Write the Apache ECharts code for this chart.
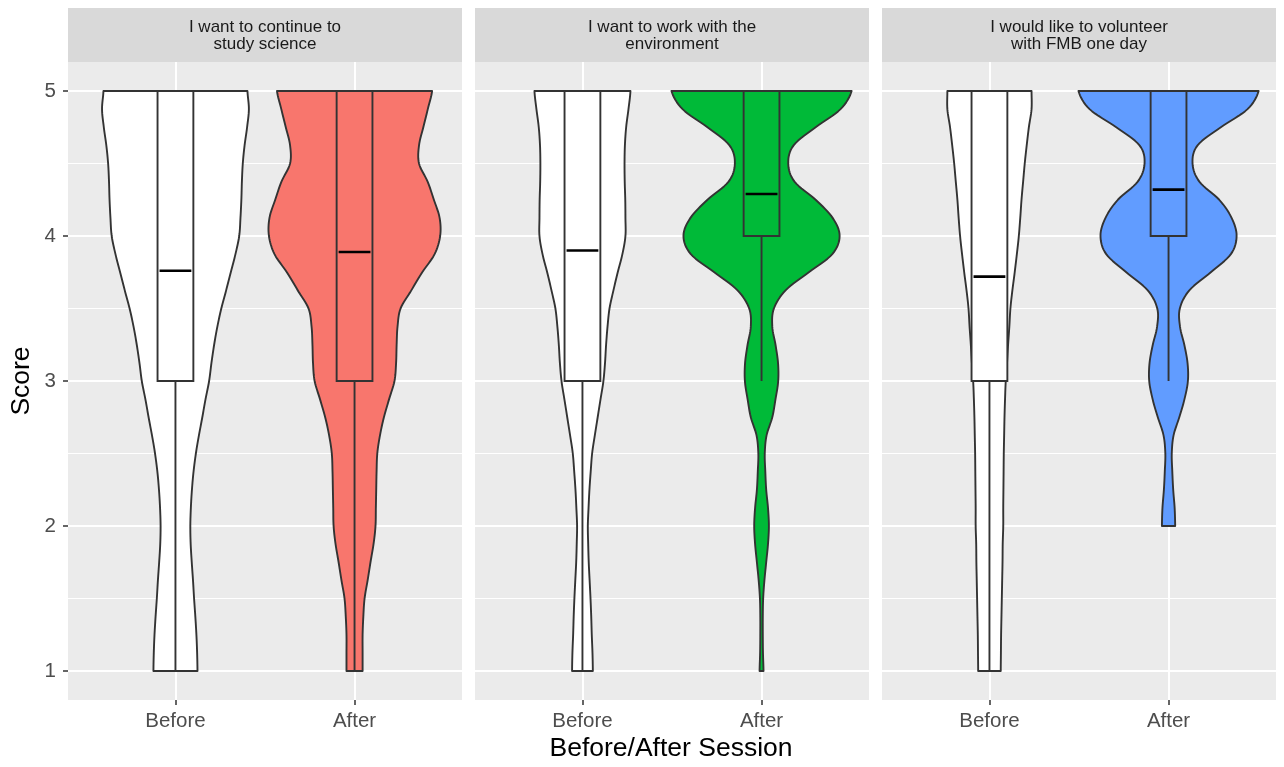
<!DOCTYPE html>
<html>
<head>
<meta charset="utf-8">
<script src="https://cdn.jsdelivr.net/npm/echarts@6.0.0/dist/echarts.min.js"></script>
<style>
  html, body { margin: 0; padding: 0; background: #fff; }
  #chart { width: 1284px; height: 767px; }
</style>
</head>
<body>
<div id="chart"></div>
<script>
// categories on each facet
const groups = ['Before', 'After'];
const facetTitles = [
  'I want to continue to\nstudy science',
  'I want to work with the\nenvironment',
  'I would like to volunteer\nwith FMB one day'
];
const yTicks = [1, 2, 3, 4, 5];
const yMinorTicks = [1.5, 2.5, 3.5, 4.5];

// score levels at which the violin half-widths were read (top to bottom)
const scoreLevels = [5, 4.875, 4.75, 4.625, 4.5, 4.375, 4.25, 4.125, 4, 3.875, 3.75, 3.625, 3.5,
  3.375, 3.25, 3.125, 3, 2.875, 2.75, 2.625, 2.5, 2.375, 2.25, 2.125, 2, 1.875, 1.75, 1.625,
  1.5, 1.375, 1.25, 1.125, 1];

// violin half-widths, in x-axis (category) units
const scienceBefore = [0.402, 0.410, 0.400, 0.386, 0.376, 0.371, 0.368, 0.363, 0.356, 0.335, 0.309,
  0.283, 0.256, 0.234, 0.216, 0.201, 0.188, 0.168, 0.150, 0.131, 0.114, 0.101, 0.092, 0.086,
  0.083, 0.085, 0.091, 0.098, 0.104, 0.111, 0.117, 0.121, 0.123];
const scienceAfter = [0.433, 0.409, 0.384, 0.360, 0.360, 0.408, 0.443, 0.475, 0.478, 0.447, 0.378,
  0.317, 0.257, 0.240, 0.235, 0.232, 0.223, 0.193, 0.164, 0.142, 0.127, 0.123, 0.121, 0.119,
  0.117, 0.106, 0.089, 0.073, 0.056, 0.049, 0.045, 0.045, 0.045];
const environmentBefore = [0.268, 0.257, 0.244, 0.237, 0.235, 0.236, 0.239, 0.240, 0.240, 0.223,
  0.197, 0.173, 0.151, 0.140, 0.132, 0.126, 0.117, 0.101, 0.085, 0.069, 0.054, 0.046, 0.039,
  0.034, 0.030, 0.032, 0.035, 0.040, 0.045, 0.049, 0.052, 0.056, 0.058];
const environmentAfter = [0.503, 0.441, 0.302, 0.179, 0.149, 0.184, 0.302, 0.397, 0.436, 0.395,
  0.264, 0.134, 0.069, 0.060, 0.078, 0.092, 0.093, 0.078, 0.060, 0.028, 0.018, 0.021, 0.026,
  0.036, 0.041, 0.036, 0.026, 0.016, 0.009, 0.007, 0.007, 0.008, 0.011];
const volunteerBefore = [0.235, 0.235, 0.220, 0.208, 0.197, 0.188, 0.179, 0.172, 0.164, 0.153,
  0.141, 0.128, 0.117, 0.111, 0.104, 0.098, 0.091, 0.087, 0.084, 0.082, 0.080, 0.079, 0.078,
  0.077, 0.077, 0.074, 0.073, 0.071, 0.069, 0.067, 0.065, 0.064, 0.063];
const volunteerAfter = [0.503, 0.441, 0.292, 0.162, 0.134, 0.172, 0.283, 0.352, 0.380, 0.348,
  0.236, 0.116, 0.063, 0.064, 0.088, 0.106, 0.108, 0.089, 0.060, 0.028, 0.018, 0.021, 0.026,
  0.034, 0.037];

// box stats: [lower whisker, Q1, middle, Q3, upper whisker]
const scienceBox = [[1, 3, 3.76, 5, 5], [1, 3, 3.89, 5, 5]];
const environmentBox = [[1, 3, 3.90, 5, 5], [3, 4, 4.29, 5, 5]];
const volunteerBox = [[1, 3, 3.72, 5, 5], [3, 4, 4.32, 5, 5]];

const violins = [
  [scienceBefore, scienceAfter],
  [environmentBefore, environmentAfter],
  [volunteerBefore, volunteerAfter]
];
const boxes = [scienceBox, environmentBox, volunteerBox];
const afterColors = ['#F8766D', '#00BA38', '#619CFF'];

const FONT = '"Liberation Sans", Arial, sans-serif';
const OUTLINE = '#333333';
const panelLeft = [68, 475, 882];
const panelWidth = 394;

function catmull(arr, k, u) {
  const p0 = arr[Math.max(k - 1, 0)];
  const p1 = arr[k];
  const p2 = arr[Math.min(k + 1, arr.length - 1)];
  const p3 = arr[Math.min(k + 2, arr.length - 1)];
  const u2 = u * u, u3 = u2 * u;
  const v = 0.5 * ((2 * p1) + (-p0 + p2) * u + (2 * p0 - 5 * p1 + 4 * p2 - p3) * u2 +
    (-p0 + 3 * p1 - 3 * p2 + p3) * u3);
  return Math.max(v, 0.002);
}

function fillFor(panel, g) {
  return g === 0 ? '#FFFFFF' : afterColors[panel];
}

function violinItem(panel) {
  return function (params, api) {
    const g = params.dataIndex;
    const widths = violins[panel][g];
    const xc = api.value(0);
    const n = widths.length;
    const SUB = 8;
    const right = [];
    const left = [];
    for (let k = 0; k < n - 1; k++) {
      for (let t = 0; t < SUB; t++) {
        const u = t / SUB;
        const w = catmull(widths, k, u);
        const s = scoreLevels[k] + (scoreLevels[k + 1] - scoreLevels[k]) * u;
        right.push(api.coord([xc + w, s]));
        left.push(api.coord([xc - w, s]));
      }
    }
    right.push(api.coord([xc + widths[n - 1], scoreLevels[n - 1]]));
    left.push(api.coord([xc - widths[n - 1], scoreLevels[n - 1]]));
    const points = right.concat(left.reverse());
    return {
      type: 'polygon',
      shape: { points: points },
      style: { fill: fillFor(panel, g), stroke: OUTLINE, lineWidth: 1.9, lineJoin: 'round' }
    };
  };
}

function boxItem(panel) {
  return function (params, api) {
    const g = params.dataIndex;
    const st = boxes[panel][g];
    const xc = api.value(0);
    const hw = 0.1;
    const tl = api.coord([xc - hw, st[3]]);
    const br = api.coord([xc + hw, st[1]]);
    const lo = api.coord([xc, st[0]]);
    const q1 = api.coord([xc, st[1]]);
    const q3 = api.coord([xc, st[3]]);
    const hi = api.coord([xc, st[4]]);
    const medL = api.coord([xc - hw, st[2]]);
    const medR = api.coord([xc + hw, st[2]]);
    const lineStyle = { stroke: OUTLINE, lineWidth: 1.9 };
    return {
      type: 'group',
      children: [
        { type: 'line', shape: { x1: lo[0], y1: lo[1], x2: q1[0], y2: q1[1] }, style: lineStyle },
        { type: 'line', shape: { x1: q3[0], y1: q3[1], x2: hi[0], y2: hi[1] }, style: lineStyle },
        {
          type: 'rect',
          shape: { x: tl[0], y: tl[1], width: br[0] - tl[0], height: br[1] - tl[1] },
          style: { fill: fillFor(panel, g), stroke: OUTLINE, lineWidth: 1.9 }
        },
        {
          type: 'line',
          shape: { x1: medL[0] + 2, y1: medL[1], x2: medR[0] - 2, y2: medR[1] },
          style: { stroke: '#000000', lineWidth: 2.6 }
        }
      ]
    };
  };
}

const chart = echarts.init(document.getElementById('chart'), null, { renderer: 'canvas' });

const grids = [];
const xAxes = [];
const yAxes = [];
const series = [];
const graphics = [];

facetTitles.forEach((title, i) => {
  grids.push({
    left: panelLeft[i], top: 62, width: panelWidth, height: 638,
    show: true, backgroundColor: '#EBEBEB', borderWidth: 0,
    containLabel: false, outerBoundsMode: 'none'
  });
  xAxes.push({
    type: 'value', gridIndex: i, min: 0.4, max: 2.6,
    axisLine: { show: false },
    axisTick: { show: true, length: 5, customValues: [1, 2], lineStyle: { color: OUTLINE, width: 1.5 } },
    axisLabel: {
      customValues: [1, 2], margin: 11, color: '#4D4D4D', fontSize: 20.5, fontFamily: FONT,
      formatter: v => groups[Math.round(v) - 1] || ''
    },
    splitLine: { show: true, lineStyle: { color: '#FFFFFF', width: 2 } }
  });
  yAxes.push({
    type: 'value', gridIndex: i, min: 0.8, max: 5.2,
    axisLine: { show: false },
    axisTick: { show: i === 0, length: 5, customValues: yTicks, lineStyle: { color: OUTLINE, width: 1.5 } },
    axisLabel: {
      show: i === 0, customValues: yTicks, margin: 12, color: '#4D4D4D', fontSize: 20.5, fontFamily: FONT
    },
    splitLine: { show: true, lineStyle: { color: '#FFFFFF', width: 2 } }
  });
  yAxes.push({
    type: 'value', gridIndex: i, min: 0.8, max: 5.2,
    axisLine: { show: false },
    axisTick: { show: false, customValues: yMinorTicks },
    axisLabel: { show: false, customValues: yMinorTicks },
    splitLine: { show: true, lineStyle: { color: '#FFFFFF', width: 1 } }
  });
  const pos = groups.map((g, k) => [k + 1]);
  series.push({
    type: 'custom', xAxisIndex: i, yAxisIndex: i * 2, data: pos,
    renderItem: violinItem(i), z: 2, silent: true
  });
  series.push({
    type: 'custom', xAxisIndex: i, yAxisIndex: i * 2, data: pos,
    renderItem: boxItem(i), z: 3, silent: true
  });
  graphics.push({
    type: 'rect', left: panelLeft[i], top: 8,
    shape: { width: panelWidth, height: 54 },
    style: { fill: '#D9D9D9' }
  });
  graphics.push({
    type: 'text', x: panelLeft[i] + panelWidth / 2, y: 36,
    style: {
      text: title, fill: '#1A1A1A', font: '17px ' + FONT,
      align: 'center', verticalAlign: 'middle', lineHeight: 17
    }
  });
});

graphics.push({
  type: 'text', x: 671, y: 749,
  style: {
    text: 'Before/After Session', fill: '#000000', font: '26.5px ' + FONT,
    align: 'center', verticalAlign: 'middle'
  }
});
graphics.push({
  type: 'text', x: 22, y: 381, rotation: Math.PI / 2,
  style: {
    text: 'Score', fill: '#000000', font: '26.5px ' + FONT,
    align: 'center', verticalAlign: 'middle'
  }
});

chart.setOption({
  animation: false,
  backgroundColor: '#FFFFFF',
  grid: grids,
  xAxis: xAxes,
  yAxis: yAxes,
  series: series,
  graphic: graphics
});
</script>
</body>
</html>
